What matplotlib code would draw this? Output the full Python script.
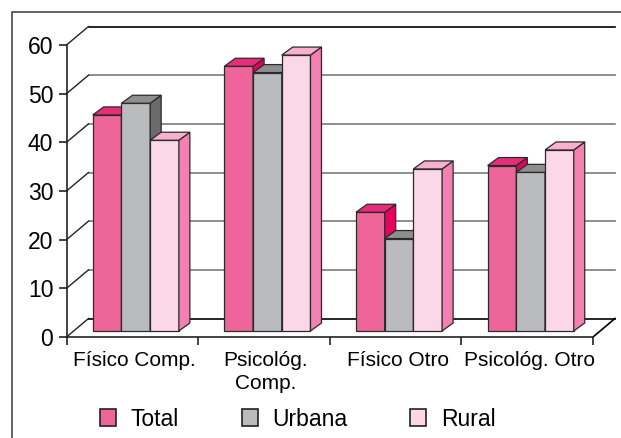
import matplotlib
matplotlib.use("Agg")
import matplotlib.pyplot as plt
from matplotlib.patches import Polygon, Patch
from matplotlib.lines import Line2D

categories = ["Físico Comp.", "Psicológ.\nComp.", "Físico Otro", "Psicológ. Otro"]
series_names = ["Total", "Urbana", "Rural"]
total = [44.4, 54.4, 24.4, 34.0]
urbana = [46.8, 53.1, 19.0, 32.6]
rural = [39.2, 56.7, 33.3, 37.2]
series = [total, urbana, rural]
y_ticks = [0, 10, 20, 30, 40, 50, 60]

front_colors = ["#EE6699", "#B9BBBD", "#FBD7E7"]
top_colors = ["#E92C7A", "#8E8E8E", "#F8B0CE"]
side_colors = ["#E6005F", "#6B6B6B", "#F380B0"]

W, H = 621, 438
plt.rcParams["font.family"] = ["Liberation Sans", "DejaVu Sans"]
fig = plt.figure(figsize=(W / 100, H / 100), dpi=100, facecolor="white")

X0, X1, Y60, Y0 = 66.5, 593.0, 45.0, 337.0
ax = fig.add_axes([X0 / W, 1 - Y0 / H, (X1 - X0) / W, (Y0 - Y60) / H])
ax.set_xlim(0, len(categories))
ax.set_ylim(0, 60)

ux = (X1 - X0) / len(categories)   # px per category
uy = (Y0 - Y60) / 60               # px per value unit
wall_dx, wall_dy = 22 / ux, 18.5 / uy
base_dx, base_dy = 3.5 / ux, 6 / uy
bar_dx, bar_dy = 11 / ux, 8 / uy
bar_w = 28.7 / ux

# walls and floor
for v in y_ticks[1:]:
    c = "black" if v == y_ticks[-1] else "#7a7a7a"
    ax.plot([wall_dx, len(categories) + wall_dx], [v + wall_dy] * 2, color=c, lw=1.2,
            clip_on=False, zorder=1)
for v in y_ticks:
    ax.plot([0, wall_dx], [v, v + wall_dy], color="#222222", lw=1, clip_on=False, zorder=1)
ax.plot([wall_dx, len(categories) + wall_dx], [wall_dy, wall_dy], color="black", lw=1.2,
        clip_on=False, zorder=1)
ax.plot([len(categories), len(categories) + wall_dx], [0, wall_dy], color="black", lw=1.2,
        clip_on=False, zorder=1)

# bars
z = 2
for i in range(len(categories)):
    for j, vals in enumerate(series):
        v = vals[i]
        x = i + 0.5 + base_dx + (j - 1.5) * bar_w
        b = base_dy
        t = b + v
        kw = dict(edgecolor="#2a2a2a", lw=0.9, clip_on=False, joinstyle="miter")
        ax.add_patch(Polygon([(x, b), (x + bar_w, b), (x + bar_w, t), (x, t)],
                             facecolor=front_colors[j], zorder=z, **kw))
        ax.add_patch(Polygon([(x + bar_w, b), (x + bar_w + bar_dx, b + bar_dy),
                              (x + bar_w + bar_dx, t + bar_dy), (x + bar_w, t)],
                             facecolor=side_colors[j], zorder=z, **kw))
        ax.add_patch(Polygon([(x, t), (x + bar_w, t), (x + bar_w + bar_dx, t + bar_dy),
                              (x + bar_dx, t + bar_dy)],
                             facecolor=top_colors[j], zorder=z, **kw))
        z += 1

# axes
for s in ["top", "right"]:
    ax.spines[s].set_visible(False)
for s in ["left", "bottom"]:
    ax.spines[s].set_linewidth(1.2)
    ax.spines[s].set_color("#222222")
ax.patch.set_visible(False)
ax.set_yticks(y_ticks)
ax.tick_params(axis="y", labelsize=16.5, length=6, width=1.2, pad=3.5, color="#222222")
ax.set_xticks(range(len(categories) + 1))
ax.set_xticklabels([])
ax.tick_params(axis="x", which="major", length=6, width=1.2, color="#222222")
ax.set_xticks([i + 0.5 + 2 / ux for i in range(len(categories))], minor=True)
ax.set_xticklabels(categories, minor=True, fontsize=15, linespacing=1.3)
ax.tick_params(axis="x", which="minor", length=0, pad=10)

# legend
handles = [Patch(facecolor=c, edgecolor="#222222", lw=1.2) for c in front_colors]
fig.legend(handles, series_names, loc="center left", ncol=3, frameon=False,
           bbox_to_anchor=(100 / W, 1 - 419 / H), bbox_transform=fig.transFigure,
           fontsize=16.5, borderpad=0, borderaxespad=0, handlelength=0.7, handleheight=0.7,
           handletextpad=0.65, columnspacing=2.72)

# outer frame
fig.add_artist(Line2D([12 / W, 12 / W, 1], [0, 1 - 12 / H, 1 - 12 / H], color="#555555", lw=1.3,
                      transform=fig.transFigure))

fig.savefig("out.png", dpi=100, facecolor="white")
